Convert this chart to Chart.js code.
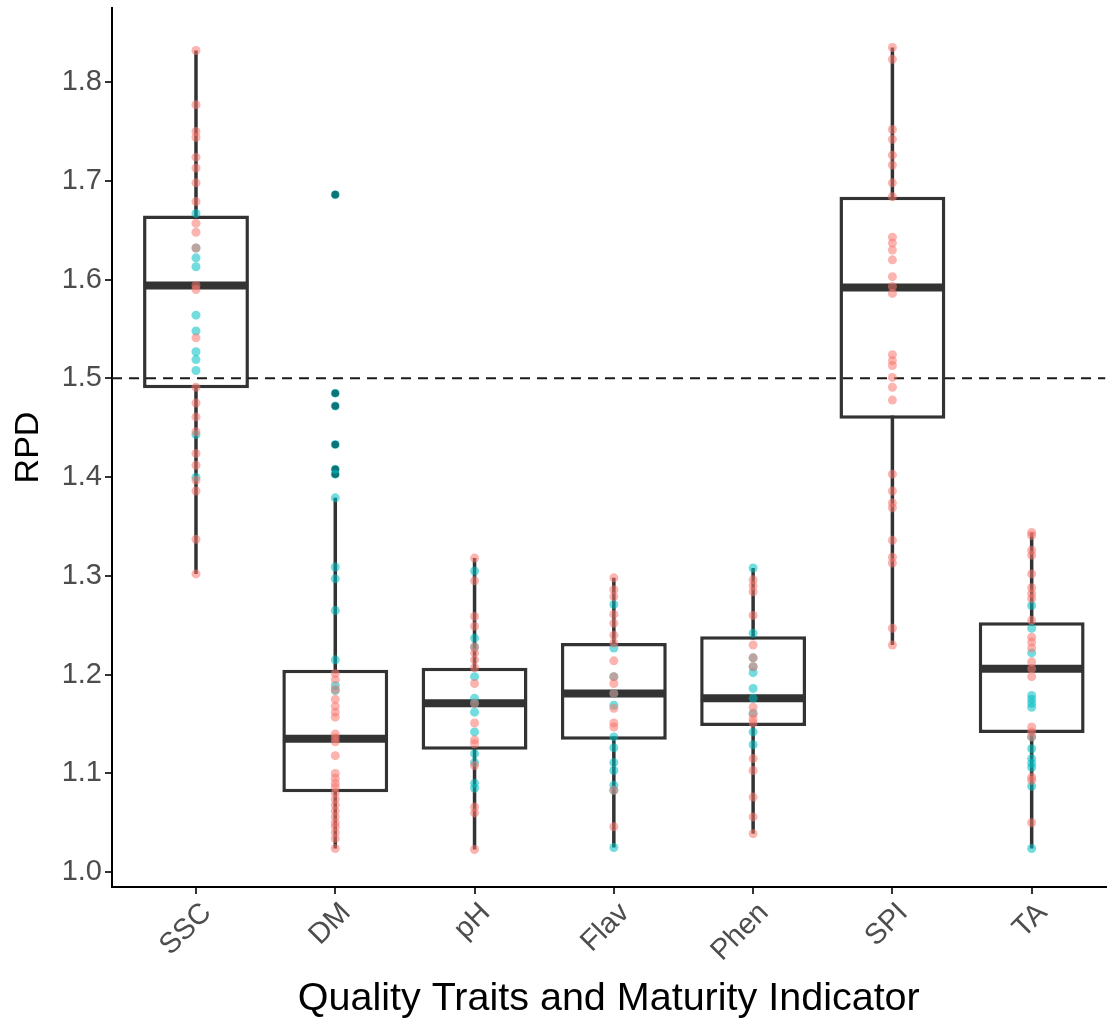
<!DOCTYPE html>
<html lang="en">
<head>
  <meta charset="utf-8">
  <title>RPD by Quality Trait</title>
  <script src="https://cdn.jsdelivr.net/npm/chart.js"></script>
  <style>
    html, body { margin: 0; padding: 0; background: #fff; }
    #wrap { width: 1110px; height: 1026px; }
  </style>
</head>
<body>
  <div id="wrap"><canvas id="myChart" width="1110" height="1026"></canvas></div>

<script>
  // categories and box statistics
  var categories = ['SSC', 'DM', 'pH', 'Flav', 'Phen', 'SPI', 'TA'];
  var whiskerLow  = [1.302, 1.024, 1.023, 1.025, 1.039, 1.230, 1.024];
  var q1          = [1.490, 1.081, 1.124, 1.134, 1.148, 1.459, 1.141];
  var medians     = [1.594, 1.135, 1.171, 1.181, 1.176, 1.592, 1.206];
  var q3          = [1.665, 1.205, 1.207, 1.232, 1.239, 1.684, 1.253];
  var whiskerHigh = [1.832, 1.379, 1.318, 1.298, 1.308, 1.835, 1.344];

  // individual RPD values, red group
  var redSSC  = [1.832, 1.777, 1.750, 1.744, 1.724, 1.713, 1.698, 1.679, 1.657, 1.648, 1.632, 1.594, 1.590, 1.541, 1.491, 1.475, 1.461, 1.446, 1.424, 1.412, 1.397, 1.386, 1.337, 1.302];
  var redDM   = [1.201, 1.195, 1.185, 1.175, 1.168, 1.162, 1.157, 1.140, 1.136, 1.132, 1.118, 1.100, 1.095, 1.090, 1.086, 1.080, 1.074, 1.068, 1.062, 1.056, 1.050, 1.046, 1.040, 1.034, 1.024];
  var redPH   = [1.318, 1.295, 1.259, 1.249, 1.228, 1.222, 1.215, 1.207, 1.191, 1.171, 1.151, 1.134, 1.130, 1.108, 1.066, 1.060, 1.023];
  var redFlav = [1.298, 1.286, 1.279, 1.261, 1.252, 1.240, 1.232, 1.214, 1.198, 1.191, 1.181, 1.166, 1.151, 1.147, 1.083, 1.046];
  var redPhen = [1.296, 1.290, 1.284, 1.260, 1.230, 1.217, 1.208, 1.167, 1.160, 1.155, 1.151, 1.115, 1.103, 1.076, 1.056, 1.039];
  var redSPI  = [1.835, 1.823, 1.752, 1.742, 1.726, 1.716, 1.698, 1.684, 1.643, 1.637, 1.630, 1.620, 1.603, 1.593, 1.586, 1.524, 1.518, 1.513, 1.501, 1.491, 1.478, 1.403, 1.386, 1.374, 1.369, 1.336, 1.319, 1.313, 1.247, 1.230];
  var redTA   = [1.344, 1.341, 1.326, 1.321, 1.302, 1.288, 1.282, 1.277, 1.255, 1.238, 1.233, 1.227, 1.213, 1.206, 1.198, 1.147, 1.142, 1.137, 1.096, 1.093, 1.050];

  // individual RPD values, teal group
  var tealSSC  = [1.667, 1.632, 1.622, 1.613, 1.564, 1.548, 1.527, 1.519, 1.508, 1.443, 1.400];
  var tealDM   = [1.686, 1.485, 1.472, 1.433, 1.408, 1.403, 1.379, 1.309, 1.297, 1.265, 1.215, 1.189, 1.184];
  var tealPH   = [1.305, 1.237, 1.228, 1.198, 1.176, 1.171, 1.162, 1.142, 1.120, 1.111, 1.090, 1.085];
  var tealFlav = [1.271, 1.227, 1.198, 1.181, 1.169, 1.137, 1.126, 1.111, 1.103, 1.088, 1.083, 1.025];
  var tealPhen = [1.308, 1.242, 1.217, 1.208, 1.202, 1.186, 1.176, 1.161, 1.142, 1.129];
  var tealSPI  = [];
  var tealTA   = [1.270, 1.247, 1.222, 1.179, 1.175, 1.171, 1.167, 1.137, 1.125, 1.115, 1.110, 1.106, 1.087, 1.024];

  // boxplot outliers (beyond whiskers)
  var outlierDM = [1.686, 1.485, 1.472, 1.433, 1.408, 1.403];

  var threshold = 1.5;
  var yTicks = [1.0, 1.1, 1.2, 1.3, 1.4, 1.5, 1.6, 1.7, 1.8];

  var redGroups  = [redSSC, redDM, redPH, redFlav, redPhen, redSPI, redTA];
  var tealGroups = [tealSSC, tealDM, tealPH, tealFlav, tealPhen, tealSPI, tealTA];
  var outlierGroups = [[], outlierDM, [], [], [], [], []];

  function toPoints(groups) {
    var pts = [];
    groups.forEach(function (vals, i) {
      vals.forEach(function (v) { pts.push({ x: i + 1, y: v }); });
    });
    return pts;
  }

  var INK = '#333333';
  var FONT = "'Liberation Sans', Arial, Helvetica, sans-serif";
  var halfBox = 0.375;
  var xMin = 0.397, xMax = 7.53;

  var datasets = [];

  // whiskers (drawn at the back)
  categories.forEach(function (c, i) {
    datasets.push({
      type: 'line',
      data: [{ x: i + 1, y: whiskerLow[i] }, { x: i + 1, y: whiskerHigh[i] }],
      borderColor: INK, borderWidth: 3.5, pointRadius: 0, order: 40
    });
  });

  // boxes: floating bars q1..q3
  datasets.push({
    type: 'bar',
    data: categories.map(function (c, i) { return { x: i + 1, y: [q1[i], q3[i]] }; }),
    backgroundColor: '#ffffff',
    borderColor: INK,
    borderWidth: 3.5,
    borderSkipped: false,
    barPercentage: 0.76,
    categoryPercentage: 1.0,
    order: 30
  });

  // medians
  categories.forEach(function (c, i) {
    datasets.push({
      type: 'line',
      data: [{ x: i + 1 - halfBox, y: medians[i] }, { x: i + 1 + halfBox, y: medians[i] }],
      borderColor: INK, borderWidth: 8, pointRadius: 0, borderCapStyle: 'butt', order: 20
    });
  });

  // dashed threshold line
  datasets.push({
    type: 'line',
    data: [{ x: xMin, y: threshold }, { x: xMax, y: threshold }],
    borderColor: '#1a1a1a', borderWidth: 2, borderDash: [10, 7], pointRadius: 0, order: 15
  });

  // outliers (black, below the coloured points)
  datasets.push({
    type: 'scatter',
    data: toPoints(outlierGroups),
    backgroundColor: '#1a1a1a', borderWidth: 0, pointRadius: 3.8, order: 10
  });

  datasets.push({
    type: 'scatter',
    data: toPoints(tealGroups),
    backgroundColor: 'rgba(0,191,196,0.55)', borderWidth: 0, pointRadius: 4.5, order: 2
  });

  datasets.push({
    type: 'scatter',
    data: toPoints(redGroups),
    backgroundColor: 'rgba(248,118,109,0.55)', borderWidth: 0, pointRadius: 4.5, order: 1
  });

  var ctx = document.getElementById('myChart').getContext('2d');
  var myChart = new Chart(ctx, {
    data: { datasets: datasets },
    options: {
      responsive: false,
      animation: false,
      layout: { padding: { top: 8, right: 0, left: 0, bottom: 0 } },
      plugins: { legend: { display: false }, tooltip: { enabled: false } },
      scales: {
        x: {
          type: 'linear',
          offset: false,
          min: xMin, max: xMax,
          afterBuildTicks: function (scale) {
            scale.ticks = categories.map(function (c, i) { return { value: i + 1 }; });
          },
          afterFit: function (scale) {
            scale.height = 139;
            scale.paddingLeft = 0; scale.paddingRight = 0;
          },
          ticks: {
            autoSkip: false,
            minRotation: 45, maxRotation: 45,
            padding: 2,
            labelOffset: 11,
            color: '#4d4d4d',
            font: { family: FONT, size: 29 },
            callback: function (v) { return categories[v - 1]; }
          },
          grid: { offset: false, drawOnChartArea: false, drawTicks: true, tickLength: 7, color: INK, lineWidth: 2 },
          border: { display: true, color: '#000', width: 2 },
          title: {
            display: true,
            text: 'Quality Traits and Maturity Indicator',
            color: '#000',
            font: { family: FONT, size: 39.5 },
            padding: { top: 0, bottom: 3 }
          }
        },
        y: {
          type: 'linear',
          min: 0.985, max: 1.875,
          afterBuildTicks: function (scale) {
            scale.ticks = yTicks.map(function (v) { return { value: v }; });
          },
          afterFit: function (scale) {
            scale.width = 112;
            scale.paddingTop = 0; scale.paddingBottom = 0;
          },
          ticks: {
            padding: 3,
            color: '#4d4d4d',
            font: { family: FONT, size: 29 },
            callback: function (v) { return v.toFixed(1); }
          },
          grid: { drawOnChartArea: false, drawTicks: true, tickLength: 7, color: INK, lineWidth: 2 },
          border: { display: true, color: '#000', width: 2 },
          title: {
            display: true,
            text: 'RPD',
            color: '#000',
            font: { family: FONT, size: 34 },
            padding: { top: 8, bottom: 0 }
          }
        }
      }
    }
  });
</script>
</body>
</html>
